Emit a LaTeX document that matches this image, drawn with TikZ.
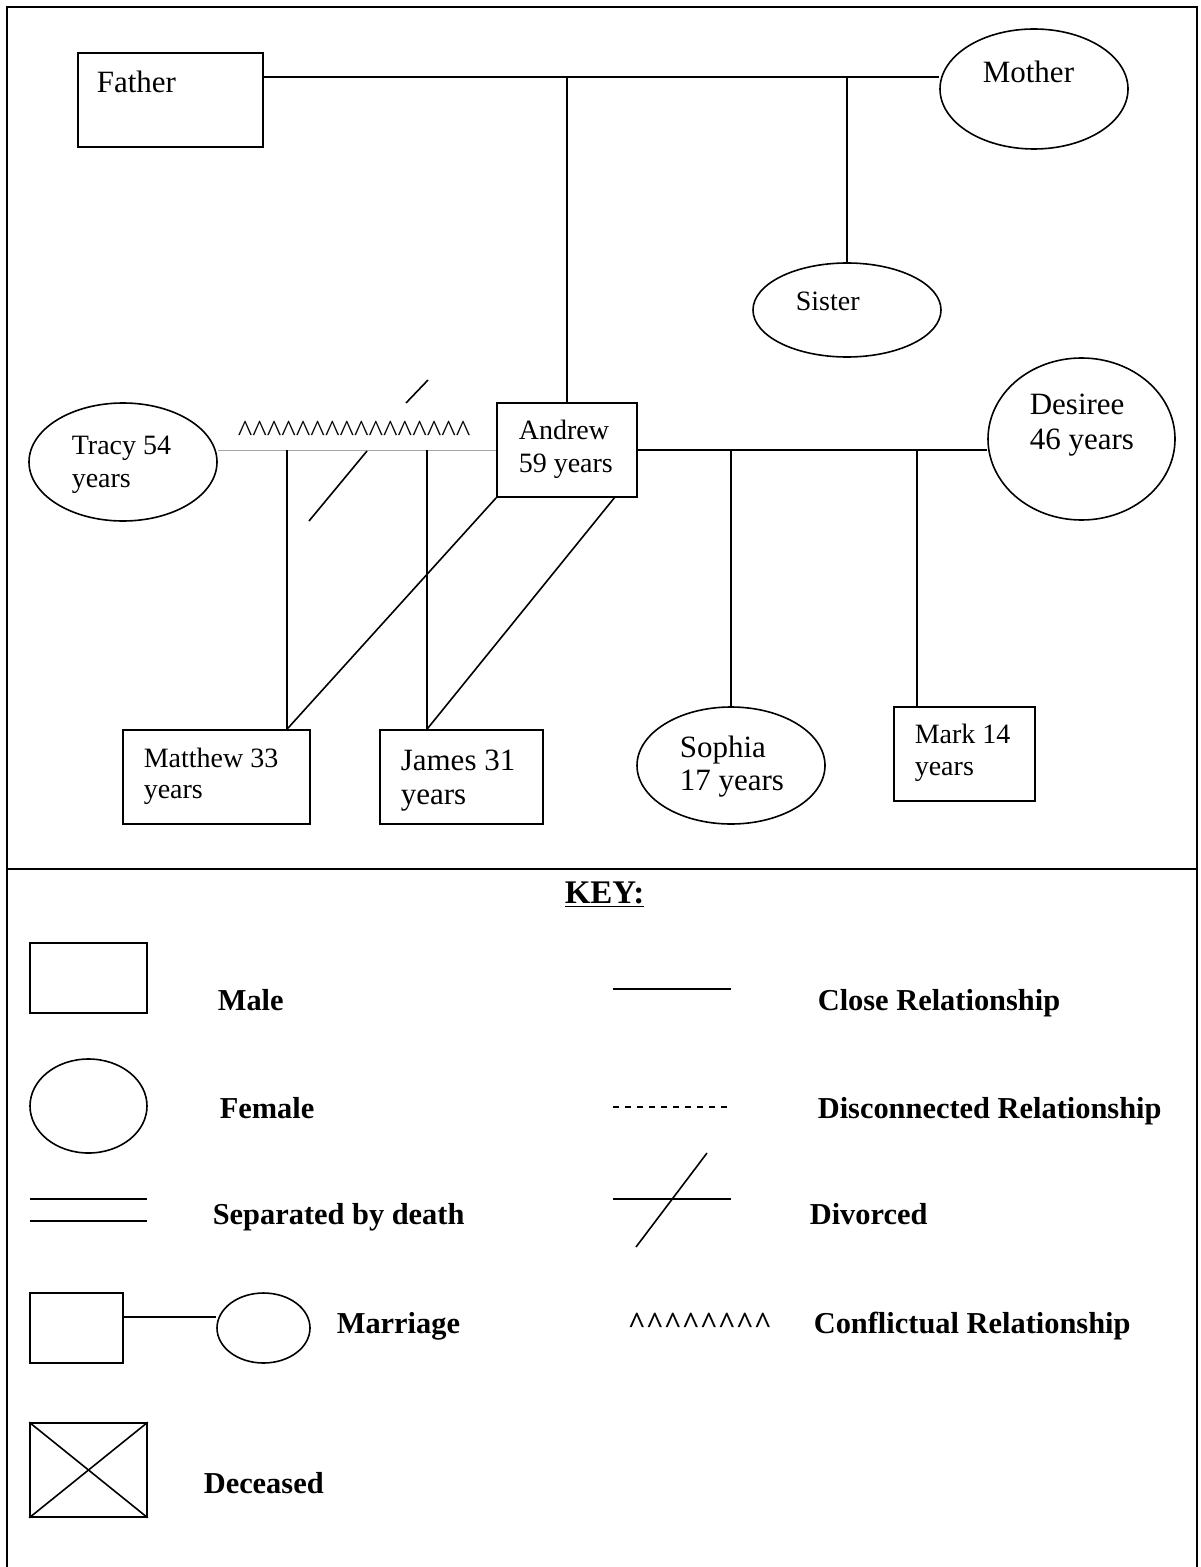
\documentclass[tikz,border=0pt]{standalone}
\usepackage{fontspec}
\setmainfont{Liberation Serif}
\usetikzlibrary{shapes.geometric}
\begin{document}
\begin{tikzpicture}[x=0.5pt,y=-0.5pt,
  every path/.style={line width=0.8pt},
  malebox/.style={draw, rectangle, inner sep=0pt, line width=0.8pt},
  femaleoval/.style={draw, ellipse, inner sep=0pt, line width=0.8pt},
  link/.style={draw, line width=0.8pt},
  weaklink/.style={draw, gray!70, line width=0.5pt},
  txt/.style={anchor=base west, inner sep=0pt, font=\fontsize{14}{16}\selectfont},
  txtl/.style={anchor=base west, inner sep=0pt, font=\fontsize{15.5}{18}\selectfont},
  keytxt/.style={anchor=base west, inner sep=0pt, font=\fontsize{15.2}{18}\selectfont\bfseries},
  frame/.style={line width=1pt}]
\useasboundingbox (0,0) rectangle (1200,1567);

% outer frame of the family diagram and the key below it
\draw[frame] (7,7) rectangle (1197,869);
\draw[frame] (7,869) -- (7,1567);
\draw[frame] (1197,869) -- (1197,1567);

% ---- people ----
\node[malebox, minimum width=92.5pt, minimum height=47pt] (father) at (170.5,100) {};
\node[femaleoval, minimum width=94pt, minimum height=60pt] (mother) at (1034,89) {};
\node[femaleoval, minimum width=94pt, minimum height=47pt] (sister) at (847,310) {};
\node[femaleoval, minimum width=94pt, minimum height=59pt] (tracy) at (123,462) {};
\node[malebox, minimum width=70pt, minimum height=47pt] (andrew) at (567,450) {};
\node[femaleoval, minimum width=93.5pt, minimum height=81pt] (desiree) at (1081.5,439) {};
\node[malebox, minimum width=93.5pt, minimum height=47pt] (matthew) at (216.5,777) {};
\node[malebox, minimum width=81.5pt, minimum height=47pt] (james) at (461.5,777) {};
\node[femaleoval, minimum width=94pt, minimum height=58.5pt] (sophia) at (731,765.5) {};
\node[malebox, minimum width=70.5pt, minimum height=47pt] (mark) at (964.5,754) {};

% names
\node[txtl] (tFather) at (96,93) {Father};
\node[txtl] (tMother) at (982,83) {Mother};
\node[txt] (tSister) at (795,311) {Sister};
\node[txt] (tTracyA) at (71,454) {Tracy 54};
\node[txt] (tTracyB) at (71,487) {years};
\node[txt] (tAndrewA) at (518,439) {Andrew};
\node[txt] (tAndrewB) at (518,472) {59 years};
\node[txtl] (tDesireeA) at (1029,414) {Desiree};
\node[txtl] (tDesireeB) at (1029,449) {46 years};
\node[txt] (tMatthewA) at (143,767) {Matthew 33};
\node[txt] (tMatthewB) at (143,798) {years};
\node[txtl] (tJamesA) at (400,770) {James 31};
\node[txtl] (tJamesB) at (400,804) {years};
\node[txtl] (tSophiaA) at (679,757) {Sophia};
\node[txtl] (tSophiaB) at (679,790) {17 years};
\node[txt] (tMarkA) at (914,743) {Mark 14};
\node[txt] (tMarkB) at (914,775) {years};

% ---- junction points ----
\coordinate (parents) at (567,77);
\coordinate (sisdrop) at (847,77);
\coordinate (mattdrop) at (287,450);
\coordinate (jamesdrop) at (427,450);
\coordinate (sophdrop) at (731,450);
\coordinate (markdrop) at (917,450);
\coordinate (andrewfoot) at (615,497);

% parents' marriage and their children
\draw[link] (father.east |- parents) -- (mother.west |- parents);
\draw[link] (parents) -- (andrew.north);
\draw[link] (sisdrop) -- (sister.north);

% Andrew and Tracy (divorced, conflictual)
\draw[weaklink] (tracy.east |- andrew.west) -- (andrew.west);
\node[anchor=base west, inner sep=0pt, font=\fontsize{15.5}{18}\selectfont] (conflict) at (237,441)
  {\char"5E\char"5E\char"5E\char"5E\char"5E\char"5E\char"5E\char"5E\char"5E\char"5E\char"5E\char"5E\char"5E\char"5E\char"5E\char"5E};
\draw[link] (309,521) -- (367,451);
\draw[link] (406,403) -- (428,380);
\draw[link] (mattdrop) -- (mattdrop |- matthew.north);
\draw[link] (jamesdrop) -- (jamesdrop |- james.north);
\draw[link] (andrew.south west) -- (mattdrop |- matthew.north);
\draw[link] (andrewfoot) -- (jamesdrop |- james.north);

% Andrew and Desiree
\draw[link] (andrew.east) -- (desiree.west |- andrew.east);
\draw[link] (sophdrop) -- (sophia.north);
\draw[link] (markdrop) -- (markdrop |- mark.north);

% ---- key ----
\node[anchor=base west, inner sep=0pt, font=\fontsize{16.5}{19}\selectfont\bfseries] (keyhead) at (564,903) {\underline{KEY:}};

\node[malebox, minimum width=58.5pt, minimum height=35pt] (kMale) at (88.5,978) {};
\node[keytxt] (lMale) at (217,1010) {Male};

\node[femaleoval, minimum width=58.5pt, minimum height=47pt] (kFemale) at (88.5,1106) {};
\node[keytxt] (lFemale) at (219,1118) {Female};

\draw (30,1199) -- (147,1199);
\draw (30,1221) -- (147,1221);
\node[keytxt] (lSep) at (212,1224) {Separated by death};

\node[malebox, minimum width=46.5pt, minimum height=35pt] (kHusband) at (76.5,1328) {};
\node[femaleoval, minimum width=46.5pt, minimum height=35pt] (kWife) at (263.5,1328) {};
\coordinate (kwed) at (170,1317);
\draw[link] (kHusband.east |- kwed) -- (kWife.west |- kwed);
\node[keytxt] (lMarriage) at (336,1333) {Marriage};

\node[malebox, minimum width=58.5pt, minimum height=47pt] (kDead) at (88.5,1470) {};
\draw (kDead.north west) -- (kDead.south east);
\draw (kDead.south west) -- (kDead.north east);
\node[keytxt] (lDead) at (203,1493) {Deceased};

\draw (613,989) -- (731,989);
\node[keytxt] (lClose) at (817,1010) {Close Relationship};

\draw[dash pattern=on 3pt off 3pt] (613,1107) -- (731,1107);
\node[keytxt] (lDisc) at (817,1118) {Disconnected Relationship};

\draw (613,1199) -- (731,1199);
\draw (707,1153) -- (636,1247);
\node[keytxt] (lDiv) at (809,1224) {Divorced};

\node[anchor=base west, inner sep=0pt, font=\fontsize{15.5}{18}\selectfont\bfseries] (kConflict) at (627,1333)
  {\char"5E\char"5E\char"5E\char"5E\char"5E\char"5E\char"5E\char"5E};
\node[keytxt] (lConflict) at (813,1333) {Conflictual Relationship};
\end{tikzpicture}
\end{document}
